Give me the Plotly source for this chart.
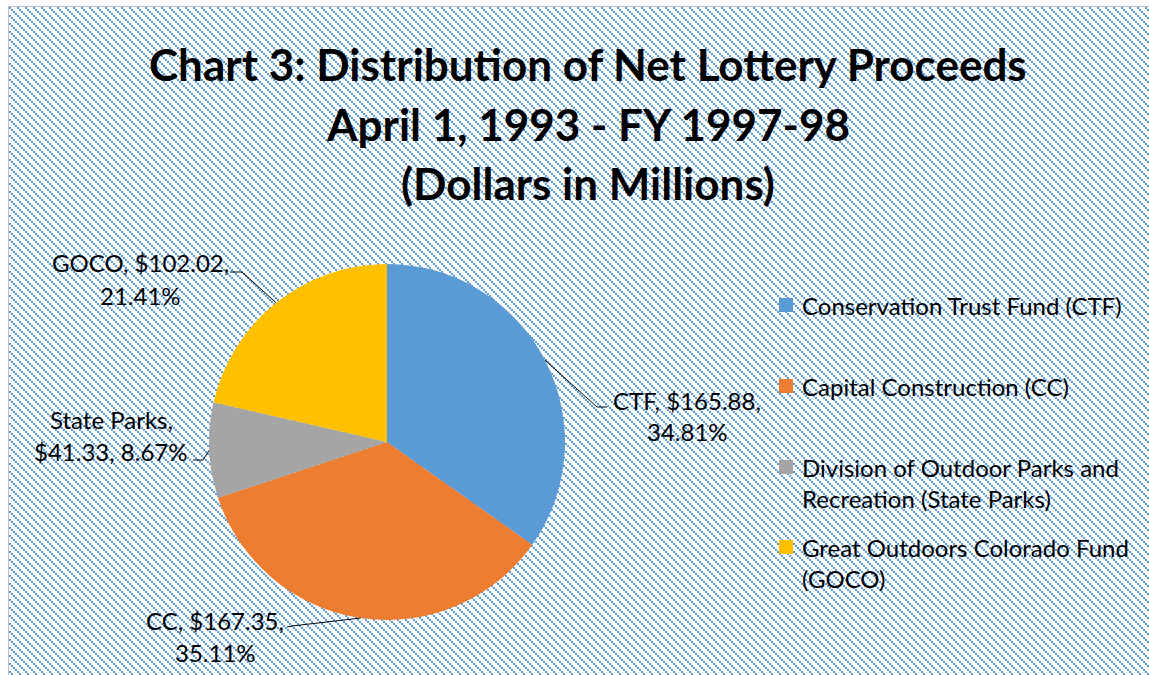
import base64
import math
import plotly.graph_objects as go

# ---------------- data ----------------
categories = ["CTF", "CC", "State Parks", "GOCO"]
legend_names = [
    "Conservation Trust Fund (CTF)",
    "Capital Construction (CC)",
    "Division of Outdoor Parks and Recreation (State Parks)",
    "Great Outdoors Colorado Fund (GOCO)",
]
legend_lines = [
    ["Conservation Trust Fund (CTF)"],
    ["Capital Construction (CC)"],
    ["Division of Outdoor Parks and", "Recreation (State Parks)"],
    ["Great Outdoors Colorado Fund", "(GOCO)"],
]
values = [165.88, 167.35, 41.33, 102.02]   # dollars in millions
colors = ["#5B9BD5", "#ED7D31", "#A5A5A5", "#FFC000"]
title_lines = [
    "Chart 3: Distribution of Net Lottery Proceeds",
    "April 1, 1993 - FY 1997-98",
    "(Dollars in Millions)",
]

# ---------------- layout constants (pixels) ----------------
W, H = 1149, 675
CX, CY, R = 387, 442, 178
FONT = "Lato, 'Open Sans', sans-serif"
TEXT_COLOR = "#000000"
LABEL_SIZE = 24

def fx(x):
    return x / W

def fy(y):
    return 1 - y / H

# label layout: text center x, line y's, leader end (near text), leader bend
label_layout = {
    "CTF":         dict(cx=687, ys=[400, 431], split=2, end=(607, 407), bend=(597, 407)),
    "CC":          dict(cx=215, ys=[620, 652], split=2, end=(287, 627), bend=(292, 626)),
    "State Parks": dict(cx=111, ys=[419, 452], split=1, end=(193, 460), bend=(203, 460)),
    "GOCO":        dict(cx=140, ys=[263, 295], split=2, end=(230, 272), bend=(242, 272)),
}

# ---------------- background (hatched chart area + border) ----------------
blocks = "".join(
    f'<rect x="{i}" y="{i}" width="2" height="2" fill="#5B9BD5"/>' for i in range(0, 8, 2)
)
svg = (
    f'<svg xmlns="http://www.w3.org/2000/svg" width="{W}" height="{H}" '
    f'viewBox="0 0 {W} {H}" shape-rendering="crispEdges">'
    f'<defs><pattern id="p" x="9" y="7" width="8" height="8" patternUnits="userSpaceOnUse">'
    f'{blocks}</pattern></defs>'
    f'<rect width="{W}" height="{H}" fill="#FFFFFF"/>'
    f'<rect x="9" y="7" width="{W - 9}" height="{H - 7}" fill="url(#p)"/>'
    f'<rect x="8" y="6" width="1" height="{H - 6}" fill="#BFBFBF"/>'
    f'<rect x="8" y="6" width="{W - 8}" height="1" fill="#BFBFBF"/>'
    f'</svg>'
)
bg_src = "data:image/svg+xml;base64," + base64.b64encode(svg.encode()).decode()

# ---------------- figure ----------------
fig = go.Figure()
fig.add_trace(
    go.Pie(
        labels=legend_names,
        values=values,
        marker=dict(colors=colors, line=dict(width=0)),
        sort=False,
        direction="clockwise",
        rotation=0,
        textinfo="none",
        showlegend=False,
        domain=dict(x=[fx(CX - R), fx(CX + R)], y=[fy(CY + R), fy(CY - R)]),
        hovertemplate="%{label}<br>$%{value:.2f}M<br>%{percent}<extra></extra>",
    )
)

annotations = []
shapes = []

# title
title_ys = [64, 124, 183]
for line, y in zip(title_lines, title_ys):
    annotations.append(dict(
        text=f"<b>{line}</b>", x=fx(588), y=fy(y), xref="paper", yref="paper",
        xanchor="center", yanchor="middle", showarrow=False,
        font=dict(family=FONT, size=44, color=TEXT_COLOR),
    ))

# data labels with leader lines
total = sum(values)
cum = 0.0
for cat, v in zip(categories, values):
    frac = v / total
    mid = (cum + frac / 2) * 2 * math.pi
    cum += frac
    ex, ey = CX + R * math.sin(mid), CY - R * math.cos(mid)
    lay = label_layout[cat]
    parts = [f"{cat},", f"${v:.2f},", f"{frac * 100:.2f}%"]
    lines = [" ".join(parts[:lay["split"]]), " ".join(parts[lay["split"]:])]
    for line, y in zip(lines, lay["ys"]):
        annotations.append(dict(
            text=line, x=fx(lay["cx"]), y=fy(y), xref="paper", yref="paper",
            xanchor="center", yanchor="middle", showarrow=False,
            font=dict(family=FONT, size=LABEL_SIZE, color=TEXT_COLOR),
        ))
    (x1, y1), (x2, y2) = lay["end"], lay["bend"]
    shapes.append(dict(
        type="path", xref="paper", yref="paper",
        path=f"M {fx(x1)},{fy(y1)} L {fx(x2)},{fy(y2)} L {fx(ex)},{fy(ey)}",
        line=dict(color="#000000", width=1),
    ))

# legend (right side)
legend_ys = [305, 386, 467, 547]
line_gap = 31
for lines, col, y in zip(legend_lines, colors, legend_ys):
    shapes.append(dict(
        type="rect", xref="paper", yref="paper",
        x0=fx(779), x1=fx(793), y0=fy(y - 7), y1=fy(y + 7),
        fillcolor=col, line=dict(width=0),
    ))
    for k, line in enumerate(lines):
        annotations.append(dict(
            text=line, x=fx(800), y=fy(y + k * line_gap), xref="paper", yref="paper",
            xanchor="left", yanchor="middle", showarrow=False,
            font=dict(family=FONT, size=LABEL_SIZE, color=TEXT_COLOR),
        ))

fig.update_layout(
    width=W, height=H,
    margin=dict(l=0, r=0, t=0, b=0),
    paper_bgcolor="#FFFFFF",
    plot_bgcolor="rgba(0,0,0,0)",
    showlegend=False,
    annotations=annotations,
    shapes=shapes,
    images=[dict(
        source=bg_src, xref="paper", yref="paper", x=0, y=1, sizex=1, sizey=1,
        xanchor="left", yanchor="top", sizing="stretch", layer="below",
    )],
)

fig.write_html(
    "out.html",
    config={"displayModeBar": False},
    post_script="document.body.style.margin='0px';",
)
